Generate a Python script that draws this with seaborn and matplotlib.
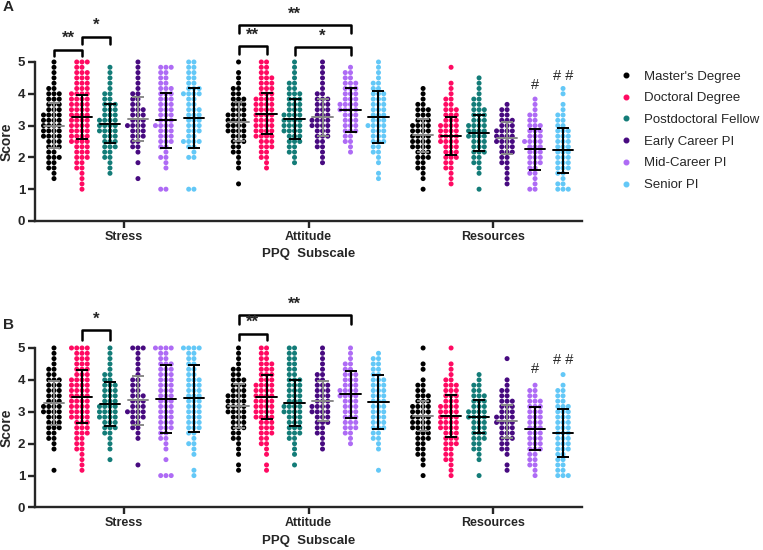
import warnings
import numpy as np
import pandas as pd
import matplotlib
matplotlib.use("Agg")
import matplotlib.pyplot as plt
from matplotlib.lines import Line2D
import seaborn as sns

warnings.filterwarnings("ignore")
sns.set_style("ticks")
plt.rcParams['font.family'] = ['Liberation Sans', 'DejaVu Sans']

subscales = ["Stress", "Attitude", "Resources"]
groups = ["Master's Degree", "Doctoral Degree", "Postdoctoral Fellow",
          "Early Career PI", "Mid-Career PI", "Senior PI"]
colors = ["#000000", "#FF0A62", "#137C78", "#470A80", "#AE6BF5", "#63C8F7"]

# score levels 1..5 in steps of 1/6, visible dots per level
levels = 1 + np.arange(25) / 6

a_stress = [
    [0,0,1,1,2,2,3,2,3,3,4,4,4,4,4,3,3,3,3,2,1,1,1,1,1],
    [1,1,1,1,2,2,3,3,3,4,4,4,4,4,4,4,4,4,4,3,3,3,3,2,3],
    [0,0,0,1,1,1,2,2,3,3,3,4,4,4,3,3,3,2,2,1,1,1,1,1,0],
    [0,0,1,0,0,1,0,1,2,2,3,3,4,3,3,3,2,2,2,1,1,1,1,1,1],
    [2,0,0,0,1,1,2,1,2,3,3,3,4,3,3,3,3,3,3,3,2,2,2,3,0],
    [2,0,0,0,0,0,2,1,2,4,2,3,3,3,3,3,2,2,4,3,2,2,2,2,2],
]
a_attitude = [
    [0,1,0,0,1,1,1,2,2,3,3,4,4,4,4,3,3,3,2,2,1,1,1,0,1],
    [0,0,0,0,1,1,2,2,3,3,4,4,4,4,4,4,4,4,3,3,3,3,2,2,2],
    [0,0,0,0,0,1,1,2,2,3,3,4,4,4,4,3,3,3,3,2,2,1,1,1,1],
    [0,0,0,0,0,1,1,1,2,2,3,3,4,4,3,3,3,3,2,1,1,1,1,1,1],
    [0,0,0,0,0,0,0,1,1,2,2,3,3,3,3,4,4,3,3,3,3,2,2,1,0],
    [0,0,1,1,0,1,1,2,2,3,3,3,4,3,3,3,3,3,3,2,2,1,1,1,1],
]
a_resources = [
    [1,0,1,1,2,2,3,3,4,4,4,4,4,3,3,3,2,1,1,1,0,0,0,0,0],
    [0,1,1,1,2,2,3,3,3,4,4,4,4,3,3,3,2,2,1,1,1,0,0,1,0],
    [1,0,0,1,1,2,2,3,3,3,4,4,4,3,3,3,2,2,1,1,1,1,0,0,0],
    [0,1,1,1,1,2,2,3,3,4,4,4,3,3,2,2,1,0,0,0,0,0,0,0,0],
    [2,1,1,2,2,3,3,3,3,4,3,3,3,2,2,1,1,1,0,0,0,0,0,0,0],
    [3,2,1,2,3,3,3,3,3,3,3,3,2,2,2,1,1,0,1,1,0,0,0,0,0],
]
b_stress = [
    [0,1,0,0,0,1,1,2,2,3,3,3,4,4,3,3,3,3,3,2,2,1,1,1,1],
    [0,1,1,1,1,2,2,2,3,3,3,4,4,4,4,4,4,4,4,3,3,3,3,3,4],
    [0,0,0,1,0,1,1,1,2,3,3,4,4,4,3,3,3,3,2,2,1,1,1,1,1],
    [0,0,1,0,0,0,0,1,1,2,2,3,4,3,3,3,2,2,2,1,1,1,1,1,3],
    [3,0,0,1,0,1,1,2,2,3,3,3,3,3,3,3,3,3,3,3,3,3,2,2,4],
    [1,1,0,0,1,1,2,1,2,3,3,3,3,3,3,3,3,3,3,2,2,2,2,2,4],
]
b_attitude = [
    [0,1,1,0,1,1,1,2,2,3,3,3,4,4,4,4,3,3,3,2,2,1,1,1,1],
    [0,1,1,0,1,1,2,2,3,3,3,4,4,4,4,4,4,4,3,3,3,3,2,2,2],
    [0,0,1,0,1,1,1,2,3,3,3,3,4,4,3,3,3,3,3,2,2,2,2,2,2],
    [0,0,0,0,0,1,1,1,2,2,3,3,4,4,3,3,3,3,2,2,1,1,1,1,1],
    [0,0,0,0,0,0,1,1,2,3,3,3,3,3,3,4,4,3,3,3,2,2,1,1,1],
    [0,1,0,0,0,1,1,2,2,3,3,3,3,3,3,3,3,3,3,2,2,2,2,1,0],
]
b_resources = [
    [1,0,1,1,2,2,2,3,3,4,4,4,4,4,3,3,2,2,1,0,1,1,0,0,1],
    [1,1,1,2,2,2,3,3,3,4,4,4,4,4,3,3,3,3,2,1,1,1,0,0,1],
    [1,0,0,1,1,2,2,3,3,3,3,4,4,3,3,3,2,2,1,1,0,0,0,0,0],
    [0,1,1,0,1,2,2,3,3,3,4,4,3,3,3,2,2,1,1,0,0,0,1,0,0],
    [1,1,2,2,2,3,3,3,3,3,3,3,3,3,3,2,2,1,0,0,0,0,0,0,0],
    [3,2,2,2,2,3,3,3,3,3,3,3,3,3,2,2,2,1,0,1,0,0,0,0,0],
]

# mean and SD per subscale (rows) and group (columns)
a_mean = [[3.00, 3.27, 3.06, 3.22, 3.17, 3.24],
          [3.12, 3.37, 3.22, 3.26, 3.50, 3.27],
          [2.69, 2.67, 2.77, 2.62, 2.25, 2.22]]
a_sd = [[0.70, 0.70, 0.61, 0.69, 0.87, 0.93],
        [0.62, 0.64, 0.63, 0.59, 0.69, 0.81],
        [0.53, 0.61, 0.57, 0.50, 0.64, 0.70]]
b_mean = [[3.28, 3.47, 3.24, 3.36, 3.39, 3.43],
          [3.18, 3.47, 3.28, 3.34, 3.55, 3.31],
          [2.87, 2.87, 2.84, 2.70, 2.47, 2.34]]
b_sd = [[0.70, 0.83, 0.70, 0.76, 1.07, 1.05],
        [0.69, 0.69, 0.73, 0.64, 0.73, 0.85],
        [0.48, 0.65, 0.52, 0.51, 0.68, 0.76]]

# significance brackets: (subscale, group1, group2, bar height, leg bottom, label)
a_brackets = [(0, 0, 1, 5.39, 5.18, "**"), (0, 1, 2, 5.80, 5.56, "*"),
              (1, 0, 4, 6.15, 5.91, "**"), (1, 0, 1, 5.49, 5.25, "**"),
              (1, 2, 4, 5.46, 5.23, "*")]
b_brackets = [(0, 1, 2, 5.55, 5.26, "*"),
              (1, 0, 4, 6.02, 5.74, "**"), (1, 0, 1, 5.45, 5.24, "**")]
a_hashes = [(2, 4, 4.29, "#"), (2, 5, 4.57, "# #")]
b_hashes = [(2, 4, 4.35, "#"), (2, 5, 4.63, "# #")]

WIDTH = 0.91
offsets = (np.arange(len(groups)) - (len(groups) - 1) / 2) * WIDTH / len(groups)


def make_df(counts):
    rows = []
    for s in range(len(subscales)):
        for g, grp in enumerate(groups):
            for lv, c in zip(levels, counts[s][g]):
                rows += [(s + offsets[g], grp, lv)] * c
    return pd.DataFrame(rows, columns=["pos", "group", "score"])


def draw_panel(ax, counts, means, sds, brackets, hashes):
    df = make_df(counts)
    sns.swarmplot(data=df, x="pos", y="score", hue="group", hue_order=groups,
                  palette=colors, native_scale=True, orient="x",
                  size=3.6, linewidth=0, legend=False, ax=ax)
    for coll in ax.collections:
        coll.set_clip_on(False)

    for s in range(3):
        for g in range(6):
            x = s + offsets[g]
            c = "#8a8a8a" if g in (0, 3) else "black"
            ax.errorbar(x, means[s][g], yerr=sds[s][g], fmt="none", ecolor=c,
                        elinewidth=1.4, capsize=4, capthick=1.4, zorder=5, clip_on=False)
            ax.plot([x - 0.055, x + 0.055], [means[s][g]] * 2, color=c, lw=1.4,
                    zorder=5, clip_on=False)

    for s, g1, g2, top, bottom, lab in brackets:
        x1, x2 = s + offsets[g1], s + offsets[g2]
        ax.plot([x1, x1, x2, x2], [bottom, top, top, bottom], color="black",
                lw=1.8, clip_on=False)
        ax.text((x1 + x2) / 2, top + 0.12, lab, ha="center", va="bottom",
                fontsize=12, fontweight="bold")
    for s, g, y, lab in hashes:
        ax.text(s + offsets[g], y, lab, ha="center", va="center", fontsize=10.5)

    ax.set_ylim(0, 5)
    ax.set_xlim(-0.482, 2.482)
    ax.set_yticks(range(6))
    ax.set_xticks(range(3), subscales)
    sns.despine(ax=ax)
    for sp in ("left", "bottom"):
        ax.spines[sp].set_linewidth(1.7)
    ax.tick_params(width=1.7, length=5, labelsize=9.5, pad=2)
    ax.tick_params(axis="x", labelsize=9)
    for lab in ax.get_xticklabels() + ax.get_yticklabels():
        lab.set_fontweight("bold")
    ax.set_ylabel("Score", fontsize=10, fontweight="bold", labelpad=3)
    ax.set_xlabel("PPQ  Subscale", fontsize=9.5, fontweight="bold", labelpad=4)


fig = plt.figure(figsize=(7.63, 5.5), dpi=100)
ax_a = fig.add_axes([0.0459, 0.5982, 0.7169, 0.2891])
ax_b = fig.add_axes([0.0459, 0.0773, 0.7169, 0.2900])
draw_panel(ax_a, [a_stress, a_attitude, a_resources], a_mean, a_sd, a_brackets, a_hashes)
draw_panel(ax_b, [b_stress, b_attitude, b_resources], b_mean, b_sd, b_brackets, b_hashes)

fig.text(0.004, 1 - 7 / 550, "A", fontsize=11, fontweight="bold", va="center")
fig.text(0.004, 1 - 325 / 550, "B", fontsize=11, fontweight="bold", va="center")

handles = [Line2D([], [], marker="o", ls="", color=c, markersize=3.3) for c in colors]
fig.legend(handles, groups, loc="upper left", bbox_to_anchor=(614 / 763, 1 - 65 / 550),
           frameon=False, fontsize=9.5, handlelength=1, handletextpad=0.9,
           labelspacing=0.72, borderaxespad=0)

fig.savefig("out.png", dpi=100)
